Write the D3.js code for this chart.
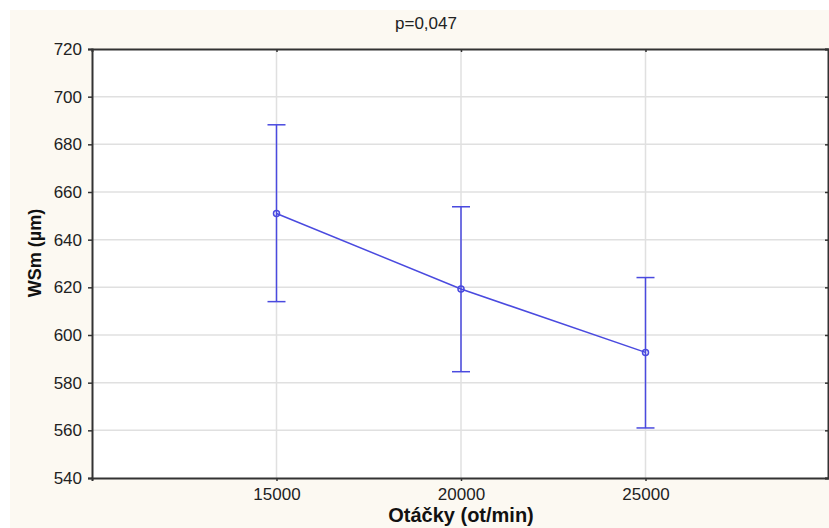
<!DOCTYPE html>
<html>
<head>
<meta charset="utf-8">
<script src="https://cdn.jsdelivr.net/npm/d3@7"></script>
<style>
  body { margin: 0; background: #fff; }
  svg { display: block; }
</style>
</head>
<body>
<svg id="chart"></svg>
<script>
// values
var speeds = [15000, 20000, 25000];
var means  = [651, 619.3, 592.7];
var lowers = [614, 584.6, 561];
var uppers = [688.2, 653.8, 624.1];
var yTicks = [540, 560, 580, 600, 620, 640, 660, 680, 700, 720];
var xTicks = [15000, 20000, 25000];

var width = 829, height = 528;
var margin = { top: 49, right: 0, bottom: 50, left: 92 };
var blue = '#4a4adf';
var font = 'Liberation Sans, Arial, sans-serif';

var data = speeds.map(function (s, i) {
  return { x: s, m: means[i], lo: lowers[i], hi: uppers[i] };
});

var svg = d3.select('#chart')
            .attr('width', width)
            .attr('height', height);

svg.append('rect')
   .attr('x', 10).attr('y', 10)
   .attr('width', width - 10).attr('height', height - 10)
   .style('fill', '#fcf9f2');

var xScale = d3.scaleLinear()
               .domain([10000, 30000])
               .range([margin.left, 830]);

var yScale = d3.scaleLinear()
               .domain([540, 720])
               .range([478, margin.top]);

// plot area
svg.append('rect')
   .attr('x', margin.left).attr('y', yScale(720))
   .attr('width', 828 - margin.left).attr('height', yScale(540) - yScale(720))
   .style('fill', '#fff');

// grid
svg.append('g').selectAll('line')
   .data(yTicks.slice(1, -1))
   .enter().append('line')
   .attr('x1', margin.left).attr('x2', 828)
   .attr('y1', function (d) { return yScale(d); })
   .attr('y2', function (d) { return yScale(d); })
   .style('stroke', '#e0e0e0').style('stroke-width', 1.5);

svg.append('g').selectAll('line')
   .data(xTicks)
   .enter().append('line')
   .attr('x1', function (d) { return xScale(d); })
   .attr('x2', function (d) { return xScale(d); })
   .attr('y1', yScale(720)).attr('y2', yScale(540))
   .style('stroke', '#e0e0e0').style('stroke-width', 1.5);

// axes
var yAxis = d3.axisLeft(yScale).tickValues(yTicks).tickSize(4).tickPadding(6);
var xAxis = d3.axisBottom(xScale).tickValues(xTicks).tickSize(3)
              .tickPadding(7).tickFormat(d3.format('d'));

svg.append('g')
   .attr('transform', 'translate(' + margin.left + ',0)')
   .call(yAxis);
svg.append('g')
   .attr('transform', 'translate(0,' + yScale(540) + ')')
   .call(xAxis);

svg.append('g')
   .attr('transform', 'translate(0,' + yScale(720) + ')')
   .call(d3.axisBottom(xScale).tickValues(xTicks).tickSize(3).tickFormat(''));
svg.append('g')
   .attr('transform', 'translate(828,0)')
   .call(d3.axisRight(yScale).tickValues(yTicks).tickSize(-3).tickFormat(''));

svg.selectAll('.domain').style('stroke', '#333').style('stroke-width', 2);
svg.selectAll('.tick line').style('stroke', '#333').style('stroke-width', 1.5);
svg.selectAll('.tick text')
   .style('font-family', font)
   .style('font-size', '17px')
   .style('fill', '#222');

// error bars
var bars = svg.append('g').selectAll('g')
              .data(data)
              .enter().append('g');

bars.append('line')
    .attr('x1', function (d) { return xScale(d.x); })
    .attr('x2', function (d) { return xScale(d.x); })
    .attr('y1', function (d) { return yScale(d.lo); })
    .attr('y2', function (d) { return yScale(d.hi); })
    .style('stroke', blue).style('stroke-width', 1.5);

bars.selectAll('.cap')
    .data(function (d) { return [{ x: d.x, v: d.lo }, { x: d.x, v: d.hi }]; })
    .enter().append('line')
    .attr('class', 'cap')
    .attr('x1', function (d) { return xScale(d.x) - 9; })
    .attr('x2', function (d) { return xScale(d.x) + 9; })
    .attr('y1', function (d) { return yScale(d.v); })
    .attr('y2', function (d) { return yScale(d.v); })
    .style('stroke', blue).style('stroke-width', 1.5);

var line = d3.line()
             .x(function (d) { return xScale(d.x); })
             .y(function (d) { return yScale(d.m); });

svg.append('path')
   .datum(data)
   .attr('d', line)
   .style('fill', 'none')
   .style('stroke', blue).style('stroke-width', 1.5);

svg.append('g').selectAll('circle')
   .data(data)
   .enter().append('circle')
   .attr('cx', function (d) { return xScale(d.x); })
   .attr('cy', function (d) { return yScale(d.m); })
   .attr('r', 3)
   .style('fill', 'none')
   .style('stroke', blue).style('stroke-width', 1.5);

// texts
svg.append('text')
   .attr('x', 426).attr('y', 29)
   .attr('text-anchor', 'middle')
   .style('font-family', font)
   .style('font-size', '17px')
   .style('fill', '#222')
   .text('p=0,047');

svg.append('text')
   .attr('x', 461).attr('y', 522)
   .attr('text-anchor', 'middle')
   .style('font-family', font)
   .style('font-size', '20px')
   .style('font-weight', 'bold')
   .style('fill', '#111')
   .text('Otáčky (ot/min)');

svg.append('text')
   .attr('transform', 'translate(41,253) rotate(-90)')
   .attr('text-anchor', 'middle')
   .style('font-family', font)
   .style('font-size', '18px')
   .style('font-weight', 'bold')
   .style('fill', '#111')
   .text('WSm (µm)');
</script>
</body>
</html>
